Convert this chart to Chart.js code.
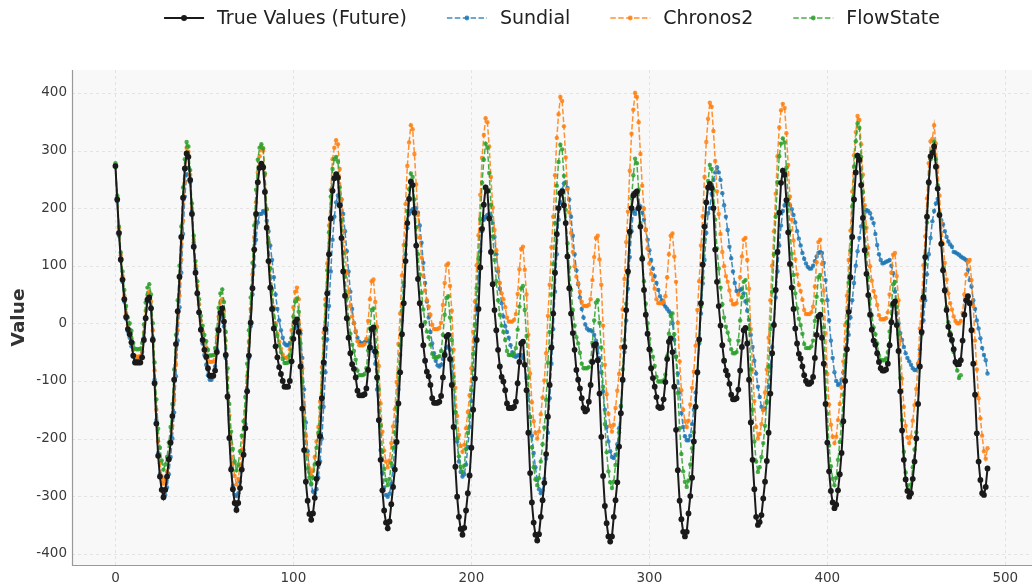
<!DOCTYPE html>
<html>
<head>
<meta charset="utf-8">
<script src="https://cdn.jsdelivr.net/npm/chart.js@4.4.1/dist/chart.umd.min.js"></script>
<style>
  html, body { margin: 0; padding: 0; background: #fff; }
  canvas { display: block; }
</style>
</head>
<body>
<canvas id="chartForecast" width="1036" height="588"></canvas>
<script>
const xTicks = [0, 100, 200, 300, 400, 500];
const yTicks = [-400, -300, -200, -100, 0, 100, 200, 300, 400];

// one value per time step, one line per cycle
const trueValues = [
  273, 215, 157, 111, 76, 42, 11, -10, -19, -33, -56, -68, -68, -68, -68, -59, -29, 9, 41, 45, 26, -29, -104, -174, -230, -266, -289, -302, -289, -266, -236, -207, -161, -98, -36, 21, 81, 150, 218, 269,
  295, 289, 249, 190, 133, 88, 52, 19, -11, -29, -46, -58, -78, -91, -91, -91, -82, -50, -12, 18, 26, 3, -55, -127, -199, -254, -288, -312, -324, -312, -286, -254, -228, -182, -118, -56, 1, 61, 128, 190, 245, 270,
  277, 271, 228, 166, 108, 62, 25, -9, -40, -59, -76, -88, -100, -110, -110, -110, -100, -66, -27, 2, 7, -15, -75, -148, -220, -275, -308, -331, -341, -330, -303, -270, -243, -196, -130, -68, -10, 52, 120, 182, 230, 252,
  259, 253, 205, 148, 90, 48, 9, -25, -52, -71, -79, -94, -117, -125, -125, -125, -123, -113, -81, -42, -10, -7, -49, -94, -168, -237, -290, -325, -346, -356, -344, -314, -284, -254, -206, -139, -85, -19, 35, 108, 174, 216,
  246, 240, 192, 135, 77, 35, -4, -38, -65, -84, -92, -107, -130, -138, -138, -138, -136, -126, -94, -55, -23, -20, -62, -107, -180, -249, -301, -336, -357, -367, -355, -325, -295, -264, -216, -150, -96, -29, 25, 97, 164, 206,
  236, 230, 182, 124, 68, 23, -12, -46, -75, -93, -101, -116, -139, -147, -147, -147, -145, -136, -104, -67, -35, -32, -72, -116, -190, -260, -311, -346, -367, -377, -366, -336, -307, -277, -227, -162, -107, -42, 17, 88, 155, 200,
  226, 229, 205, 174, 116, 61, 17, -17, -46, -81, -98, -113, -130, -147, -153, -150, -136, -107, -67, -38, -36, -64, -122, -197, -265, -317, -347, -370, -379, -370, -336, -307, -276, -214, -156, -98, -41, 23, 90, 159, 200, 222,
  226, 229, 200, 168, 112, 58, 15, -18, -45, -78, -95, -110, -128, -145, -147, -146, -132, -102, -62, -32, -26, -50, -110, -185, -255, -308, -340, -362, -370, -362, -330, -300, -268, -205, -145, -85, -28, 35, 102, 168, 210, 236,
  242, 235, 200, 128, 72, 30, -4, -38, -65, -82, -90, -105, -124, -132, -132, -130, -115, -82, -41, -12, -8, -35, -98, -172, -237, -288, -336, -350, -345, -333, -304, -275, -239, -190, -122, -52, -3, 58, 124, 192, 244,
  265, 258, 214, 158, 103, 62, 25, -9, -35, -53, -61, -75, -90, -100, -105, -105, -102, -93, -60, -20, 12, 15, -25, -70, -140, -207, -257, -291, -311, -321, -315, -290, -262, -225, -170, -100, -45, 20, 80, 150, 215, 262,
  291, 284, 240, 183, 127, 86, 49, 15, -11, -30, -37, -52, -67, -78, -82, -82, -80, -70, -38, 2, 34, 38, -3, -48, -118, -186, -237, -271, -291, -301, -295, -270, -240, -200, -140, -75, -15, 45, 115, 185, 245, 290,
  296, 307, 272, 234, 188, 138, 92, 57, 23, -6, -20, -29, -45, -67, -71, -71, -64, -30, 15, 40, 47, 35, -12, -70, -124, -191, -240, -272, -295, -298, -284, -252
];

const sundial = [
  275, 212, 152, 108, 72, 38, 8, -14, -25, -40, -58, -62, -62, -60, -58, -50, -25, 10, 38, 45, 28, -25, -98, -168, -225, -262, -288, -300, -298, -285, -262, -232, -200, -155, -92, -30, 28, 88, 155, 220,
  258, 270, 245, 195, 140, 95, 55, 20, -12, -35, -55, -72, -90, -98, -98, -92, -75, -45, -12, 10, 15, -5, -60, -130, -200, -250, -282, -298, -300, -295, -275, -248, -220, -175, -115, -60, -5, 50, 100, 145, 175, 190,
  190, 195, 192, 178, 160, 135, 110, 80, 50, 25, 5, -12, -25, -35, -38, -38, -34, -26, -16, -8, -3, -2, -18, -60, -115, -172, -222, -258, -280, -292, -295, -288, -268, -240, -200, -145, -85, -28, 30, 90, 145, 185,
  210, 222, 225, 215, 190, 160, 125, 90, 55, 25, 0, -15, -25, -32, -35, -35, -33, -30, -30, -35, -42, -48, -70, -115, -170, -220, -260, -285, -298, -301, -296, -278, -250, -215, -170, -115, -55, 5, 65, 120, 165, 190,
  195, 198, 200, 200, 192, 170, 140, 105, 70, 38, 10, -15, -35, -52, -65, -73, -75, -72, -62, -50, -42, -40, -45, -65, -105, -155, -205, -240, -258, -266, -262, -245, -215, -180, -135, -80, -25, 30, 80, 125, 160, 180,
  185, 188, 190, 186, 174, 150, 120, 90, 60, 35, 12, -5, -15, -25, -38, -50, -57, -58, -56, -55, -55, -60, -72, -95, -125, -162, -195, -225, -250, -272, -288, -295, -290, -270, -235, -190, -130, -70, -10, 55, 120, 180,
  210, 232, 243, 245, 235, 215, 185, 152, 120, 92, 68, 45, 25, 10, -2, -9, -12, -12, -14, -20, -30, -42, -60, -85, -118, -150, -180, -205, -222, -232, -234, -228, -210, -182, -145, -100, -50, 5, 60, 115, 160, 195,
  190, 198, 205, 203, 192, 180, 162, 145, 127, 110, 95, 82, 70, 58, 47, 40, 34, 29, 25, 21, 17, 0, -29, -58, -87, -120, -156, -180, -196, -203, -203, -195, -175, -150, -120, -87, -35, 17, 69, 110, 157, 191,
  200, 225, 249, 262, 271, 262, 249, 226, 205, 185, 162, 133, 113, 90, 70, 56, 55, 58, 60, 52, 38, 22, 6, -20, -41, -65, -87, -110, -128, -145, -150, -148, -138, -110, -75, -41, 0, 45, 90, 135, 170,
  195, 205, 210, 208, 205, 198, 188, 175, 160, 147, 135, 122, 112, 104, 98, 95, 95, 100, 108, 116, 122, 124, 122, 105, 75, 40, 5, -30, -60, -85, -100, -107, -105, -98, -85, -68, -45, -20, 10, 40, 70, 100,
  125, 148, 168, 183, 193, 197, 195, 191, 182, 174, 155, 136, 120, 110, 104, 105, 107, 108, 110, 100, 87, 55, 17, 0, -17, -29, -41, -52, -60, -66, -72, -78, -81, -81, -70, -45, -17, 5, 40, 85, 120, 148,
  177, 195, 208, 216, 191, 179, 172, 160, 150, 142, 137, 133, 124, 123, 121, 119, 116, 114, 112, 110, 93, 75, 64, 40, 25, 5, -9, -26, -43, -55, -64, -87
];

const chronos2 = [
  275, 220, 165, 118, 82, 48, 18, -3, -13, -26, -46, -57, -58, -58, -57, -48, -16, 22, 50, 55, 38, -12, -82, -150, -205, -243, -266, -278, -270, -258, -235, -207, -178, -133, -72, -12, 48, 110, 178, 245,
  305, 298, 258, 200, 145, 100, 65, 33, 4, -14, -30, -42, -58, -67, -67, -66, -55, -24, 12, 36, 42, 22, -30, -95, -160, -210, -243, -265, -280, -270, -248, -220, -196, -152, -92, -32, 25, 85, 150, 210, 262, 290,
  306, 300, 258, 198, 140, 96, 60, 28, 0, -18, -32, -44, -54, -60, -60, -58, -45, -12, 28, 55, 62, 42, -12, -78, -145, -195, -228, -252, -265, -255, -232, -205, -180, -136, -76, -16, 42, 104, 170, 232, 285, 305,
  318, 311, 268, 215, 161, 122, 87, 55, 30, 12, 1, -13, -31, -38, -38, -38, -36, -27, 4, 42, 73, 76, 37, -6, -74, -139, -188, -221, -240, -250, -238, -208, -179, -149, -102, -36, 17, 83, 136, 207, 273, 314,
  344, 337, 294, 241, 188, 149, 114, 82, 57, 40, 29, 15, -3, -10, -10, -10, -8, 1, 32, 70, 101, 104, 65, 22, -46, -112, -161, -194, -213, -223, -211, -182, -154, -125, -78, -15, 38, 101, 153, 223, 287, 327,
  356, 349, 307, 254, 201, 162, 127, 95, 70, 52, 42, 28, 10, 3, 3, 3, 6, 16, 51, 94, 129, 133, 93, 50, -20, -87, -137, -170, -190, -200, -188, -158, -129, -99, -52, 13, 67, 132, 185, 257, 322, 363,
  393, 386, 342, 288, 233, 193, 157, 124, 99, 81, 70, 55, 37, 30, 30, 30, 32, 42, 75, 115, 148, 152, 111, 67, -4, -72, -123, -157, -178, -188, -176, -147, -117, -88, -41, 24, 77, 141, 194, 265, 329, 371,
  400, 393, 349, 294, 239, 199, 163, 130, 104, 86, 75, 60, 42, 35, 35, 35, 37, 47, 80, 120, 152, 156, 116, 72, 1, -66, -116, -150, -170, -180, -169, -141, -112, -84, -39, 23, 73, 135, 186, 254, 315, 355,
  383, 376, 334, 282, 229, 190, 155, 124, 99, 82, 72, 57, 40, 33, 33, 35, 50, 80, 116, 145, 148, 110, 60, -10, -80, -135, -180, -200, -192, -175, -150, -120, -80, -25, 40, 100, 160, 225, 290, 340, 370,
  381, 374, 330, 275, 220, 180, 144, 111, 85, 67, 56, 41, 23, 16, 16, 16, 19, 29, 64, 106, 141, 145, 103, 57, -17, -88, -141, -176, -197, -208, -197, -168, -140, -111, -66, -3, 48, 110, 161, 229, 292, 332,
  360, 353, 311, 258, 205, 166, 131, 99, 74, 56, 46, 32, 14, 7, 7, 7, 9, 19, 50, 88, 119, 122, 82, 40, -30, -96, -145, -178, -198, -208, -197, -169, -142, -114, -70, -9, 40, 101, 151, 217, 278, 316,
  320, 344, 312, 272, 222, 175, 138, 105, 76, 52, 35, 24, 12, 4, 0, 0, 4, 18, 50, 85, 106, 110, 75, 30, -30, -80, -130, -165, -195, -222, -235, -217
];

const flowState = [
  278, 222, 168, 123, 90, 58, 30, 10, 0, -13, -34, -44, -45, -45, -44, -34, -2, 36, 62, 68, 50, 0, -68, -132, -183, -216, -238, -254, -245, -232, -207, -180, -140, -80, -20, 40, 100, 168, 236, 285,
  315, 307, 266, 208, 152, 108, 73, 42, 13, -4, -20, -31, -46, -56, -56, -55, -43, -10, 27, 52, 59, 37, -15, -78, -140, -188, -218, -240, -255, -245, -222, -195, -170, -128, -70, -12, 45, 105, 170, 232, 284, 305,
  311, 304, 260, 198, 140, 95, 58, 25, -4, -22, -38, -50, -62, -69, -69, -68, -56, -25, 12, 38, 43, 20, -35, -102, -170, -222, -252, -268, -278, -268, -245, -216, -190, -146, -86, -26, 32, 92, 158, 220, 268, 285,
  289, 281, 236, 179, 122, 81, 43, 8, -18, -37, -48, -63, -82, -90, -90, -90, -88, -78, -47, -9, 23, 26, -11, -51, -115, -177, -223, -253, -272, -281, -270, -243, -216, -189, -146, -86, -38, 22, 71, 136, 195, 233,
  260, 254, 215, 167, 120, 85, 53, 24, 2, -14, -24, -37, -53, -59, -59, -59, -57, -48, -20, 15, 44, 47, 10, -29, -93, -154, -200, -231, -249, -258, -247, -218, -190, -161, -116, -53, -2, 61, 113, 181, 244, 284,
  312, 305, 261, 206, 151, 110, 73, 40, 15, -4, -15, -29, -48, -55, -55, -55, -53, -43, -11, 29, 61, 65, 23, -22, -94, -163, -215, -250, -271, -281, -269, -240, -210, -181, -133, -68, -15, 50, 103, 174, 239, 280,
  310, 302, 256, 197, 139, 97, 58, 23, -4, -24, -35, -51, -70, -78, -78, -78, -76, -66, -34, 5, 36, 40, 1, -42, -110, -175, -224, -257, -276, -286, -275, -246, -217, -189, -143, -80, -29, 34, 86, 154, 217, 257,
  286, 278, 232, 174, 116, 73, 34, 0, -27, -47, -58, -74, -93, -101, -101, -101, -99, -89, -57, -18, 13, 17, -19, -58, -121, -182, -227, -257, -275, -284, -273, -245, -217, -189, -144, -83, -32, 29, 79, 146, 208, 247,
  275, 268, 232, 180, 130, 95, 62, 33, 10, -6, -16, -29, -45, -52, -52, -50, -30, 5, 45, 72, 75, 40, -10, -80, -150, -205, -240, -258, -250, -232, -208, -178, -135, -75, -10, 55, 120, 185, 245, 290, 312,
  321, 314, 270, 215, 161, 121, 84, 52, 26, 8, -3, -18, -36, -43, -43, -43, -40, -30, 4, 46, 80, 84, 40, -7, -84, -157, -212, -248, -270, -281, -268, -237, -206, -174, -124, -55, 2, 71, 127, 203, 272, 316,
  347, 339, 289, 228, 166, 121, 80, 43, 14, -7, -19, -35, -56, -64, -64, -64, -61, -50, -14, 31, 68, 72, 28, -19, -95, -168, -223, -259, -281, -292, -280, -250, -219, -189, -140, -73, -19, 48, 103, 175, 242, 285,
  300, 315, 285, 240, 190, 140, 96, 60, 28, 2, -16, -32, -50, -68, -82, -95, -90
];

const seriesNames = ['True Values (Future)', 'Sundial', 'Chronos2', 'FlowState'];
const seriesColors = ['#1a1a1a', 'rgba(31,119,180,0.85)', 'rgba(255,127,14,0.85)', 'rgba(44,160,44,0.85)'];
const dashPattern = [5.5, 2.4];

function toPoints(values) {
  return values.map((v, i) => ({ x: i, y: v }));
}

function forecastSet(idx, values, order) {
  return {
    label: seriesNames[idx],
    data: toPoints(values),
    borderColor: seriesColors[idx],
    backgroundColor: seriesColors[idx],
    pointBackgroundColor: seriesColors[idx],
    borderWidth: 1.5,
    borderDash: dashPattern,
    pointRadius: 2.2,
    pointBorderWidth: 0,
    tension: 0,
    order: order
  };
}

const plotFrame = {
  id: 'plotFrame',
  beforeDatasetsDraw(chart) {
    const { ctx, chartArea: a } = chart;
    const xs = chart.scales.x, ys = chart.scales.y;
    ctx.save();
    ctx.fillStyle = '#f8f8f8';
    ctx.fillRect(a.left, a.top, a.right - a.left, a.bottom - a.top);

    ctx.strokeStyle = '#dddddd';
    ctx.lineWidth = 0.8;
    ctx.setLineDash([3, 3]);
    ctx.beginPath();
    xTicks.forEach(v => {
      const px = Math.round(xs.getPixelForValue(v)) + 0.5;
      ctx.moveTo(px, a.top);
      ctx.lineTo(px, a.bottom);
    });
    yTicks.forEach(v => {
      const py = Math.round(ys.getPixelForValue(v)) + 0.5;
      ctx.moveTo(a.left, py);
      ctx.lineTo(a.right, py);
    });
    ctx.stroke();

    ctx.setLineDash([]);
    ctx.strokeStyle = '#999999';
    ctx.lineWidth = 1.2;
    ctx.beginPath();
    ctx.moveTo(a.left + 0.5, a.top);
    ctx.lineTo(a.left + 0.5, a.bottom + 0.5);
    ctx.lineTo(a.right, a.bottom + 0.5);
    ctx.stroke();
    ctx.restore();
  },
  afterDraw(chart) {
    const { ctx, chartArea: a } = chart;
    ctx.save();

    // y axis title
    ctx.translate(19, (a.top + a.bottom) / 2);
    ctx.rotate(-Math.PI / 2);
    ctx.fillStyle = '#333';
    ctx.font = 'bold 18.5px "DejaVu Sans"';
    ctx.textAlign = 'center';
    ctx.textBaseline = 'middle';
    ctx.fillText('Value', 0, 0);
    ctx.restore();

    // legend
    ctx.save();
    ctx.font = '19px "DejaVu Sans"';
    ctx.textBaseline = 'middle';
    const lineLen = 40, textGap = 13, itemGap = 40;
    const widths = seriesNames.map(n => ctx.measureText(n).width);
    const total = widths.reduce((s, w) => s + lineLen + textGap + w, 0) + itemGap * (seriesNames.length - 1);
    let x = (a.left + a.right) / 2 - total / 2;
    const y = 18;
    seriesNames.forEach((name, i) => {
      ctx.strokeStyle = seriesColors[i];
      ctx.fillStyle = seriesColors[i];
      ctx.lineWidth = i === 0 ? 2 : 1.5;
      ctx.setLineDash(i === 0 ? [] : dashPattern);
      ctx.beginPath();
      ctx.moveTo(x, y);
      ctx.lineTo(x + lineLen, y);
      ctx.stroke();
      ctx.setLineDash([]);
      ctx.beginPath();
      ctx.arc(x + lineLen / 2, y, i === 0 ? 3 : 2.4, 0, Math.PI * 2);
      ctx.fill();
      ctx.fillStyle = '#222';
      ctx.fillText(name, x + lineLen + textGap, y + 1);
      x += lineLen + textGap + widths[i] + itemGap;
    });
    ctx.restore();
  }
};

const chart = new Chart(document.getElementById('chartForecast').getContext('2d'), {
  type: 'line',
  data: {
    datasets: [
      {
        label: seriesNames[0],
        data: toPoints(trueValues),
        borderColor: seriesColors[0],
        backgroundColor: seriesColors[0],
        pointBackgroundColor: seriesColors[0],
        borderWidth: 2,
        pointRadius: 2.9,
        pointBorderWidth: 0,
        tension: 0,
        order: 0
      },
      forecastSet(1, sundial, 3),
      forecastSet(2, chronos2, 2),
      forecastSet(3, flowState, 1)
    ]
  },
  options: {
    responsive: false,
    animation: false,
    layout: { padding: { top: 70, right: 0, bottom: 0, left: 0 } },
    plugins: {
      legend: { display: false },
      tooltip: { enabled: false }
    },
    scales: {
      x: {
        type: 'linear',
        min: -24.4,
        max: 515,
        grid: { display: false, drawTicks: false },
        border: { display: false },
        ticks: {
          padding: 5,
          color: '#3a3a3a',
          maxRotation: 0,
          font: { family: 'DejaVu Sans', size: 13.5 }
        },
        afterBuildTicks: s => { s.ticks = xTicks.map(v => ({ value: v })); },
        afterFit: s => { s.height = 23; }
      },
      y: {
        type: 'linear',
        min: -419.6,
        max: 439.8,
        grid: { display: false, drawTicks: false },
        border: { display: false },
        ticks: {
          padding: 5,
          color: '#3a3a3a',
          font: { family: 'DejaVu Sans', size: 13.5 }
        },
        afterBuildTicks: s => { s.ticks = yTicks.map(v => ({ value: v })); },
        afterFit: s => { s.width = 72; }
      }
    }
  },
  plugins: [plotFrame]
});
</script>
</body>
</html>
